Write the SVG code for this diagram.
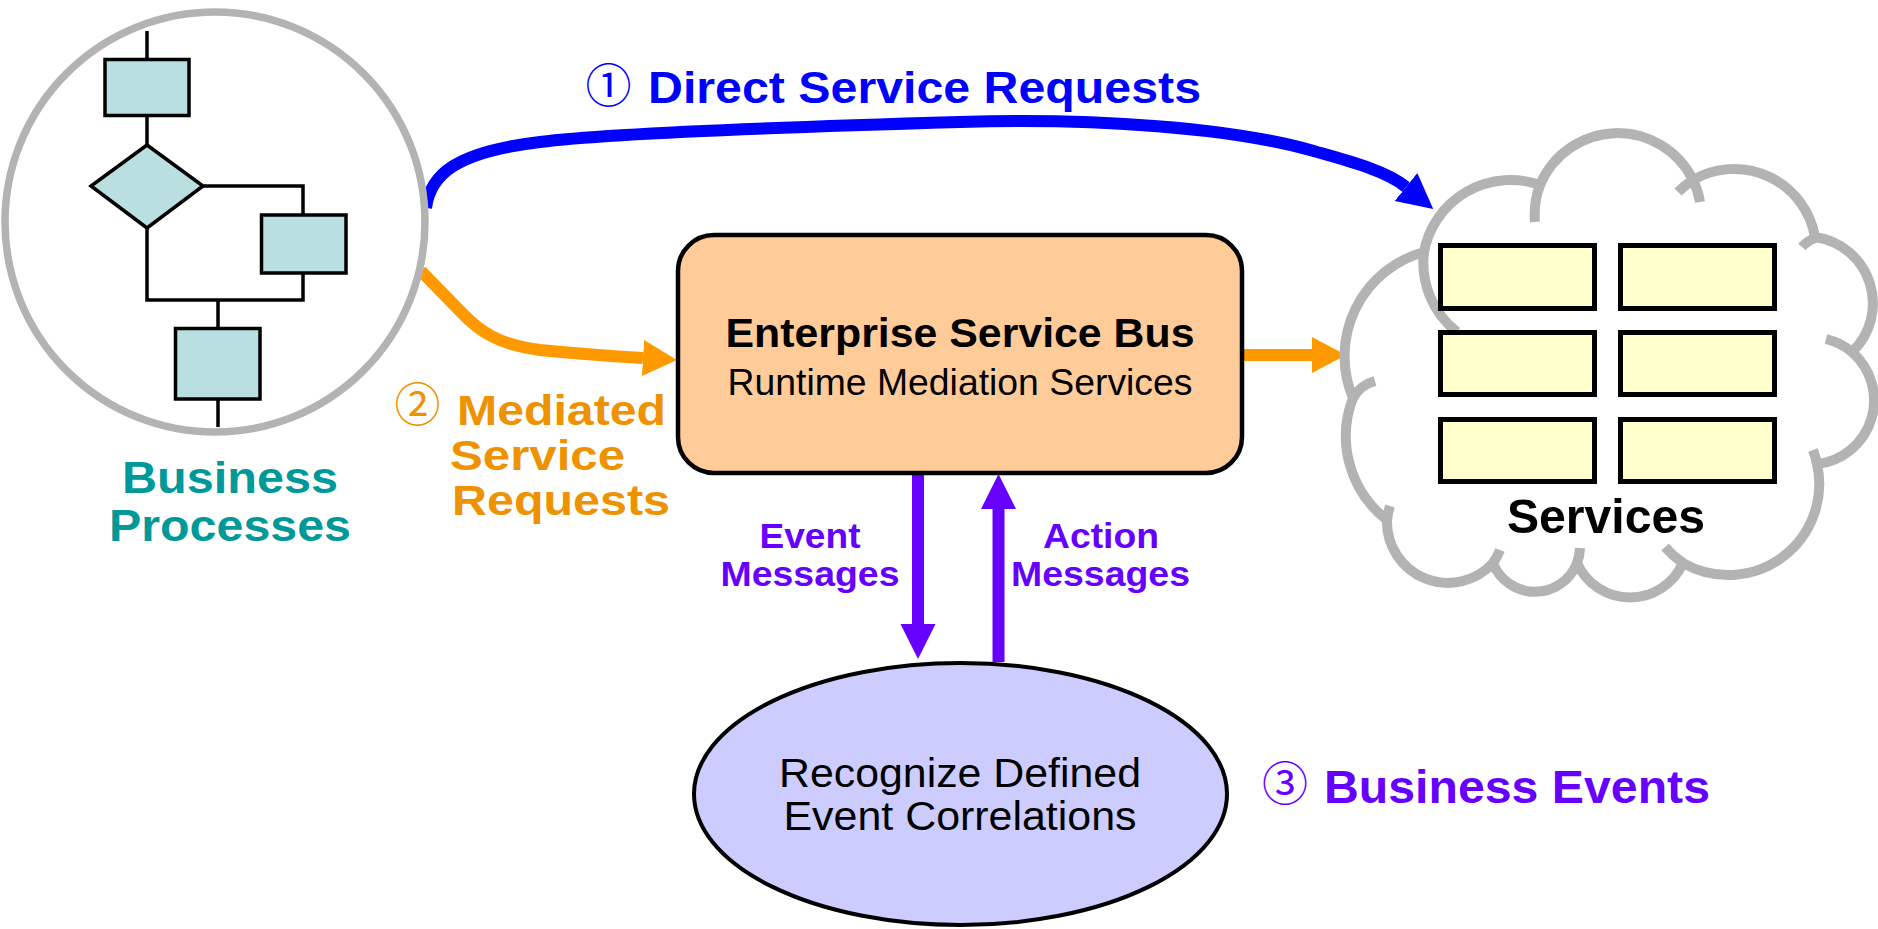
<svg xmlns="http://www.w3.org/2000/svg" width="1878" height="929" viewBox="0 0 1878 929">
<defs>
<style>
.t{font-family:'Liberation Sans',Arial,Helvetica,sans-serif}
.b{font-weight:bold}
.cj{font-family:'Noto Sans CJK JP','Noto Sans CJK SC',sans-serif;font-weight:normal}
.fc{fill:#badfe1;stroke:#000;stroke-width:3.5}
.fl{fill:none;stroke:#000;stroke-width:3.5}
.svc{fill:#ffffcc;stroke:#000;stroke-width:5}
.cloud{fill:#fff;stroke:#b3b3b3;stroke-width:10}
.hook{fill:none;stroke:#b3b3b3;stroke-width:10}
.blue{fill:none;stroke:#0000ff;stroke-width:12}
.orange{fill:none;stroke:#ff9900;stroke-width:12}
.purple{fill:none;stroke:#6600ff;stroke-width:12}
</style>
<marker id="mb" markerUnits="userSpaceOnUse" viewBox="0 -20 40 40" refX="0" refY="0" markerWidth="40" markerHeight="40" orient="auto"><path d="M0,-18 L35,0 L0,18 Z" fill="#0000ff"/></marker>
<marker id="mo" markerUnits="userSpaceOnUse" viewBox="0 -20 40 40" refX="0" refY="0" markerWidth="40" markerHeight="40" orient="auto"><path d="M0,-18 L34,0 L0,18 Z" fill="#ff9900"/></marker>
<marker id="mp" markerUnits="userSpaceOnUse" viewBox="0 -20 40 40" refX="0" refY="0" markerWidth="40" markerHeight="40" orient="auto"><path d="M0,-17.5 L35,0 L0,17.5 Z" fill="#6600ff"/></marker>
</defs>
<rect width="1878" height="929" fill="#fff"/>

<g id="connectors">
<path class="blue" marker-end="url(#mb)" d="M426,208 C430,175 455,152 540,142 C600,134 750,128 960,122 C1100,118 1230,128 1310,150 C1345,160 1385,170 1406,187"/>
<path class="orange" marker-end="url(#mo)" d="M421,271 L462,313 C480,332 500,345 540,350 C580,354 610,356 643,358"/>
<path class="orange" marker-end="url(#mo)" d="M1244,355 L1312,355"/>
<path class="purple" marker-end="url(#mp)" d="M918,475 L918,624"/>
<path class="purple" marker-end="url(#mp)" d="M998.5,662 L998.5,509"/>
</g>

<g id="business-processes">
<circle cx="215" cy="222" r="210" fill="#fff" stroke="#b3b3b3" stroke-width="7.5"/>
<path class="fl" d="M147,31V59 M147,116V145 M203,186H303V215 M303,273V300H147V228 M218,300V328 M218,399V427"/>
<rect class="fc" x="105" y="59.5" width="84" height="56"/>
<polygon class="fc" points="147,145 203,186 147,228 91,186"/>
<rect class="fc" x="261.5" y="215" width="84.5" height="58"/>
<rect class="fc" x="175.5" y="328.5" width="84.5" height="70.5"/>
<text class="t b" fill="#009999" font-size="45" text-anchor="middle"><tspan x="230" y="493" textLength="216" lengthAdjust="spacingAndGlyphs">Business</tspan><tspan x="230" y="541" textLength="242" lengthAdjust="spacingAndGlyphs">Processes</tspan></text>
</g>

<g id="esb">
<rect x="678" y="235" width="564" height="238" rx="36" fill="#ffcc99" stroke="#000" stroke-width="4.5"/>
<text class="t b" fill="#000" font-size="40" x="960" y="347" text-anchor="middle" textLength="469" lengthAdjust="spacingAndGlyphs">Enterprise Service Bus</text>
<text class="t" fill="#000" font-size="36" x="960" y="395" text-anchor="middle" textLength="465" lengthAdjust="spacingAndGlyphs">Runtime Mediation Services</text>
</g>

<g id="event-correlation">
<ellipse cx="960.5" cy="794" rx="266.5" ry="131" fill="#ccccff" stroke="#000" stroke-width="4"/>
<text class="t" fill="#000" font-size="40" text-anchor="middle"><tspan x="960" y="787" textLength="362" lengthAdjust="spacingAndGlyphs">Recognize Defined</tspan><tspan x="960" y="830" textLength="353" lengthAdjust="spacingAndGlyphs">Event Correlations</tspan></text>
</g>

<g id="services">
<path class="cloud" d="M1424,252 A88,88 0 0 1 1540,185 A84,84 0 0 1 1693,180 A82,82 0 0 1 1815,237 A67,67 0 0 1 1852,352 A64,64 0 0 1 1817,464 A91,91 0 0 1 1683,563 A58,58 0 0 1 1577,563 A45,45 0 0 1 1493,563 A61,61 0 0 1 1387,520 A106,106 0 0 1 1353,398 A108,108 0 0 1 1424,252 Z"/>
<path class="hook" d="M1424,252 A88,88 0 0 0 1457,332 M1540,185 A84,84 0 0 0 1535,222 M1693,180 A84,84 0 0 1 1700,202 M1693,180 A82,82 0 0 0 1678,192 M1816,238 Q1808,240 1802,247 M1852,352 A64,64 0 0 0 1826,339 M1817,464 A91,91 0 0 0 1813,450 M1683,563 A91,91 0 0 1 1665,547 M1577,563 A45,45 0 0 0 1580,548 M1493,563 A61,61 0 0 0 1500,550 M1387,520 A61,61 0 0 1 1390,506 M1353,398 Q1360,385 1375,381"/>
<rect class="svc" x="1440.5" y="245.5" width="154" height="63"/>
<rect class="svc" x="1620.5" y="245.5" width="154" height="63"/>
<rect class="svc" x="1440.5" y="332.5" width="154" height="62"/>
<rect class="svc" x="1620.5" y="332.5" width="154" height="62"/>
<rect class="svc" x="1440.5" y="419.5" width="154" height="62"/>
<rect class="svc" x="1620.5" y="419.5" width="154" height="62"/>
<text class="t b" fill="#000" font-size="49" x="1606" y="533" text-anchor="middle" textLength="198" lengthAdjust="spacingAndGlyphs">Services</text>
</g>

<g id="label-direct">
<text class="t b" fill="#0000ff" font-size="45"><tspan class="cj" font-size="46" x="608.5" y="102" text-anchor="middle">①</tspan><tspan x="648" y="103" textLength="553" lengthAdjust="spacingAndGlyphs">Direct Service Requests</tspan></text>
</g>

<g id="label-mediated">
<text class="t b" fill="#ee9200" font-size="42"><tspan class="cj" font-size="46" x="417.5" y="421" text-anchor="middle">②</tspan><tspan x="457" y="425" textLength="209" lengthAdjust="spacingAndGlyphs">Mediated</tspan><tspan x="450" y="470" textLength="175" lengthAdjust="spacingAndGlyphs">Service</tspan><tspan x="452" y="515" textLength="218" lengthAdjust="spacingAndGlyphs">Requests</tspan></text>
</g>

<g id="label-event-messages">
<text class="t b" fill="#6600ff" font-size="35" text-anchor="middle"><tspan x="810" y="548" textLength="101" lengthAdjust="spacingAndGlyphs">Event</tspan><tspan x="810" y="586" textLength="179" lengthAdjust="spacingAndGlyphs">Messages</tspan></text>
</g>

<g id="label-action-messages">
<text class="t b" fill="#6600ff" font-size="35" text-anchor="middle"><tspan x="1101" y="548" textLength="116" lengthAdjust="spacingAndGlyphs">Action</tspan><tspan x="1100.5" y="586" textLength="179" lengthAdjust="spacingAndGlyphs">Messages</tspan></text>
</g>

<g id="label-business-events">
<text class="t b" fill="#6600ff" font-size="46"><tspan class="cj" x="1285" y="800" text-anchor="middle">③</tspan><tspan x="1324" y="803" textLength="386" lengthAdjust="spacingAndGlyphs">Business Events</tspan></text>
</g>
</svg>
